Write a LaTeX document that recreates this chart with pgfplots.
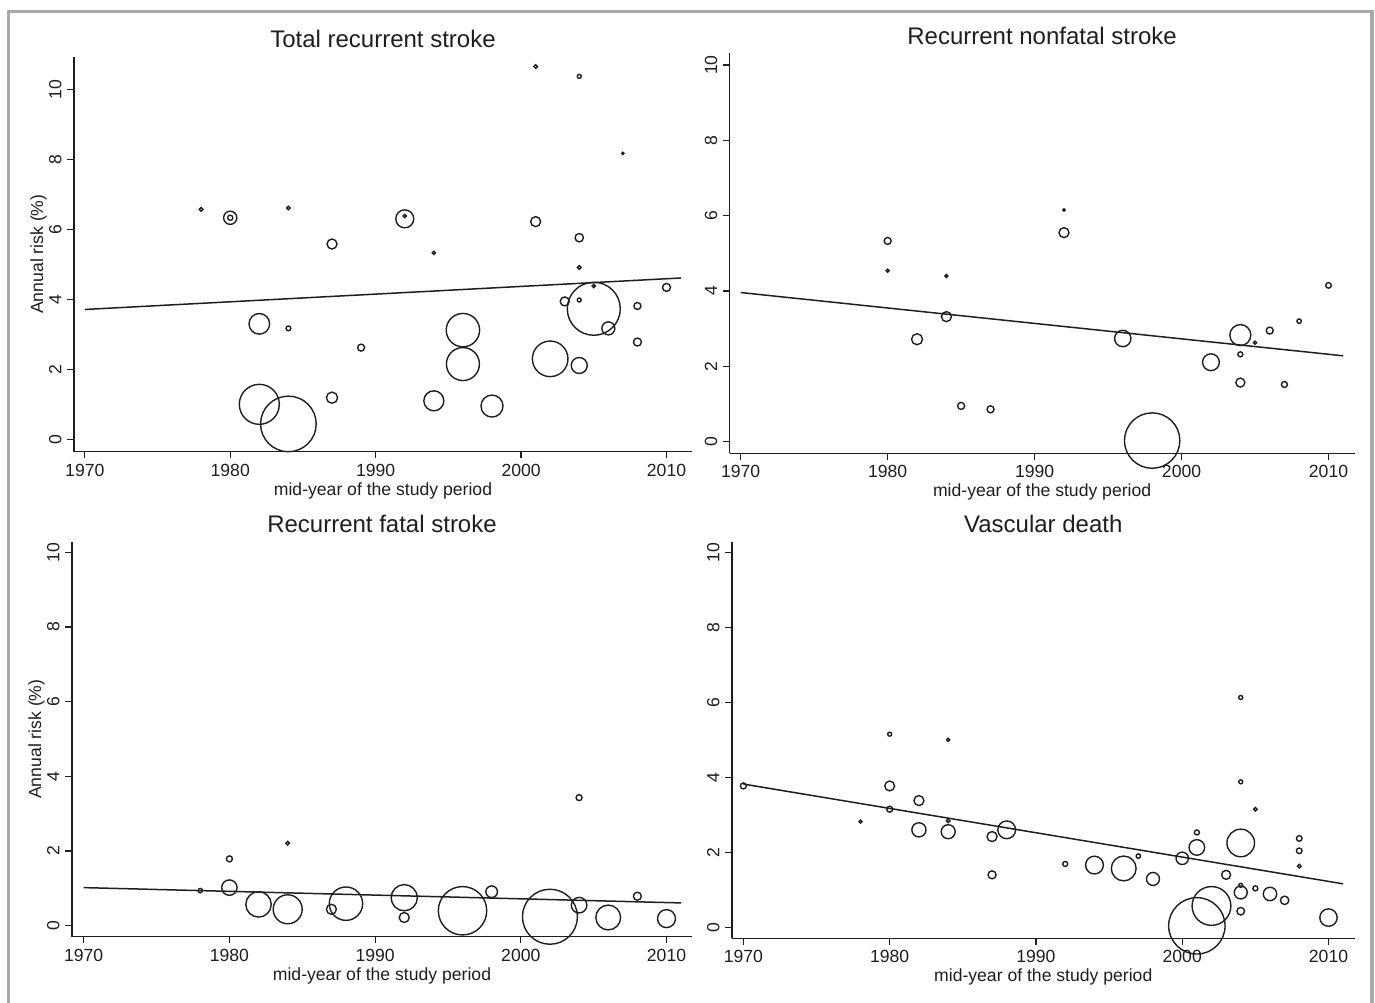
\documentclass[border=0pt]{standalone}
\usepackage{fontspec}
\setmainfont{Liberation Sans}
\usepackage{pgfplots}
\usepackage{pgfplotstable}
\pgfplotsset{compat=1.18}
\definecolor{framegray}{RGB}{168,168,168}
\definecolor{ink}{RGB}{30,30,30}

% x = mid-year, y = annual risk (%), r = bubble radius (px of the reference)
\pgfplotstableread{
x y r
1978 6.57 1.8
1980 6.33 6.6
1980 6.33 2.6
1984 6.61 1.8
1992 6.30 9.0
1992 6.38 1.6
1987 5.58 5.0
1994 5.33 1.6
2001 10.65 1.8
2004 10.37 2.0
2007 8.17 1.2
2001 6.22 5.0
2004 5.76 4.2
2004 4.91 1.8
2004 3.98 2.0
2003 3.94 4.5
2005 4.38 1.6
2005 3.73 26.5
2006 3.17 6.5
2008 3.81 3.5
2008 2.78 4.0
2010 4.34 4.0
1982 3.30 10.3
1984 3.17 2.4
1989 2.62 3.5
1996 3.12 16.7
1996 2.15 16.5
2002 2.30 17.8
2004 2.11 8.0
1982 1.00 20.0
1984 0.44 27.8
1987 1.19 5.6
1994 1.10 10.0
1998 0.95 11.0
}\totaltab

\pgfplotstableread{
x y r
1980 5.33 3.5
1980 4.54 1.5
1984 4.40 1.5
1992 6.15 1.2
1992 5.55 5.0
1984 3.32 5.0
1982 2.72 5.5
1985 0.95 3.5
1987 0.86 3.5
1996 2.74 8.2
1998 0.03 27.7
2002 2.11 8.4
2004 2.83 10.5
2004 2.32 2.5
2004 1.57 4.5
2005 2.63 1.6
2006 2.95 3.5
2007 1.52 3.0
2008 3.20 2.2
2010 4.15 2.8
}\nonfataltab

\pgfplotstableread{
x y r
1978 0.94 2.2
1980 1.79 3.0
1980 1.02 7.7
1984 2.21 1.8
1982 0.57 12.7
1984 0.44 14.5
1987 0.44 5.0
1988 0.59 16.7
1992 0.75 13.1
1992 0.22 5.0
1996 0.40 24.2
1998 0.91 5.8
2002 0.24 27.5
2004 3.43 3.0
2004 0.55 7.8
2006 0.22 12.4
2008 0.79 4.0
2010 0.19 9.0
}\fataltab

\pgfplotstableread{
x y r
1970 3.77 3.0
1978 2.82 1.5
1980 5.15 2.0
1980 3.77 4.9
1980 3.15 3.0
1982 3.38 5.0
1982 2.60 7.1
1984 5.00 1.6
1984 2.84 1.8
1984 2.55 7.0
1987 2.42 5.0
1987 1.40 4.0
1988 2.60 8.9
1992 1.69 2.5
1994 1.66 8.9
1996 1.57 12.4
1997 1.90 2.2
1998 1.29 6.5
2000 1.84 6.2
2001 2.53 2.5
2001 2.13 7.8
2003 1.40 4.5
2004 6.13 2.0
2004 3.88 2.0
2004 2.25 13.8
2004 1.12 2.0
2004 0.93 6.5
2004 0.43 3.8
2005 3.15 1.8
2005 1.04 2.5
2006 0.89 6.7
2007 0.72 4.2
2008 2.37 2.8
2008 2.04 2.8
2008 1.63 1.8
2010 0.26 8.7
2002 0.57 19.4
2001 0.04 28.2
}\vasculartab

\pgfplotsset{
  stata/.style={
    scale only axis, clip=false,
    axis lines=left,
    axis line style={-, line width=0.6pt, draw=ink},
    xtick={1970,1980,1990,2000,2010},
    ytick={0,2,4,6,8,10},
    tick align=outside,
    major tick length=3.3pt,
    every tick/.style={line width=0.6pt, draw=ink},
    /pgf/number format/1000 sep={},
    /pgf/number format/assume math mode=true,
    xticklabel style={font=\fontsize{8.8}{10}\selectfont, anchor=base, inner sep=0pt, text=ink},
    xticklabel shift=8.85pt,
    yticklabel style={font=\fontsize{8.8}{10}\selectfont, rotate=90, anchor=base, inner sep=0pt, text=ink},
    yticklabel shift=3.0pt,
    every axis x label/.style={at={(axis description cs:0.5,0)}, anchor=base, inner sep=0pt, yshift=-21.65pt, font=\fontsize{8.8}{10}\selectfont, text=ink},
    every axis y label/.style={at={([xshift=-15.5pt]axis description cs:0,0.5)}, rotate=90, anchor=base, inner sep=0pt, font=\fontsize{8.8}{10}\selectfont, text=ink},
    every axis title/.style={at={(axis description cs:0.5,1)}, anchor=base, inner sep=0pt, yshift=4.5pt, font=\fontsize{12}{14}\selectfont, text=ink},
    xlabel={mid-year of the study period},
  },
  bubbles/.style={
    scatter, only marks, mark=o,
    mark options={line width=0.7pt},
    scatter/use mapped color={draw=ink, fill=none},
    visualization depends on={\thisrow{r}*0.5 \as \rad},
    scatter/@pre marker code/.append style={/tikz/mark size=\rad},
  },
  fitline/.style={ink, line width=0.75pt, no marks},
}

\begin{document}
\begin{tikzpicture}
\useasboundingbox (0,0) rectangle (687.5pt,-501pt);
\draw[framegray, line width=1.6pt] (4.2pt,-515pt) -- (4.2pt,-5.85pt) -- (686pt,-5.85pt) -- (686pt,-515pt);

% Panel 1
\begin{axis}[stata, at={(37pt,-225.85pt)}, anchor=south west,
  width=309pt, height=197.5pt,
  xmin=1969.257, xmax=2011.753, ymin=-0.354, ymax=10.932,
  title={Total recurrent stroke}, ylabel={Annual risk (\%)}]
\addplot[bubbles] table[x=x,y=y] {\totaltab};
\addplot[fitline] coordinates {(1970,3.71) (2011,4.61)};
\end{axis}

% Panel 2
\begin{axis}[stata, at={(364.8pt,-226.65pt)}, anchor=south west,
  width=312.5pt, height=200pt,
  xmin=1969.245, xmax=2011.776, ymin=-0.308, ymax=10.311,
  title={Recurrent nonfatal stroke}]
\addplot[bubbles] table[x=x,y=y] {\nonfataltab};
\addplot[fitline] coordinates {(1970,3.96) (2011,2.28)};
\end{axis}

% Panel 3
\begin{axis}[stata, at={(36pt,-468.35pt)}, anchor=south west,
  width=310pt, height=197.5pt,
  xmin=1969.197, xmax=2011.75, ymin=-0.295, ymax=10.284,
  title={Recurrent fatal stroke}, ylabel={Annual risk (\%)}]
\addplot[bubbles] table[x=x,y=y] {\fataltab};
\addplot[fitline] coordinates {(1970,1.02) (2011,0.61)};
\end{axis}

% Panel 4
\begin{axis}[stata, at={(365.95pt,-469.15pt)}, anchor=south west,
  width=311.35pt, height=198.3pt,
  xmin=1969.214, xmax=2011.785, ymin=-0.293, ymax=10.283,
  title={Vascular death}]
\addplot[bubbles] table[x=x,y=y] {\vasculartab};
\addplot[fitline] coordinates {(1970,3.82) (2011,1.16)};
\end{axis}
\end{tikzpicture}
\end{document}
